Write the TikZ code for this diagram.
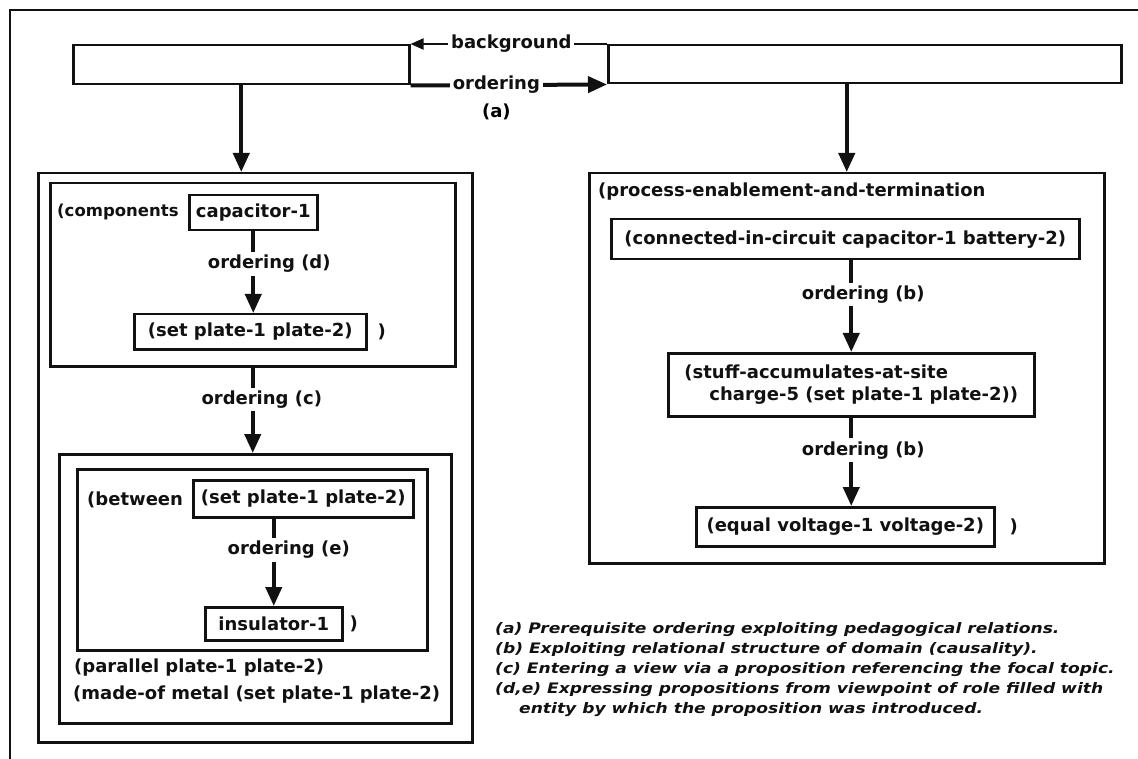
\documentclass[tikz,border=0pt]{standalone}
\usepackage{fontspec}
\setmainfont{DejaVu Sans}
\newfontfamily\notefont[FakeStretch=1.18]{DejaVu Sans}
\usetikzlibrary{arrows.meta, positioning, calc}
\definecolor{inkBlack}{HTML}{111111}
\tikzset{
  arrowK/.style={-{Triangle[length=19pt,width=16pt]}, line width=4pt, inkBlack},
  arrowThin/.style={-{Triangle[length=13pt,width=11pt]}, line width=2pt, inkBlack},
  boxK/.style={rectangle, draw=inkBlack, line width=2.5pt, fill=white,
               inner sep=0pt, align=center, text=inkBlack},
  frameK/.style={rectangle, draw=inkBlack, line width=2.5pt, inner sep=0pt},
  lblK/.style={fill=white, inner sep=3pt, text=inkBlack},
  txtK/.style={anchor=west, inner sep=0pt, text=inkBlack},
}
\begin{document}
\begin{tikzpicture}[x=1pt, y=-1pt, font=\bfseries\fontsize{18}{22}\selectfont]
    \useasboundingbox (0,0) rectangle (1138,759);
    \draw[inkBlack, line width=2.5pt] (10,759) -- (10,10) -- (1138,10);

    \node[boxK, minimum width=336pt, minimum height=39pt, anchor=north west] (topL) at (72,44) {};
    \node[boxK, minimum width=513pt, minimum height=38pt, anchor=north west] (topR) at (607,44) {};

    \node[frameK, minimum width=434pt, minimum height=569pt, anchor=north west] (viewL) at (37,172) {};
    \node[frameK, minimum width=405pt, minimum height=183pt, anchor=north west] (compBox) at (49,182) {};
    \node[txtK, font=\bfseries\fontsize{16.5}{20}\selectfont] (compTxt) at (57,212) {(components};
    \node[boxK, minimum width=128pt, minimum height=35pt, anchor=north west] (capBox) at (188,194) {capacitor-1};
    \node[boxK, minimum width=232pt, minimum height=35pt, anchor=north west] (setA) at (133,313) {(set plate-1 plate-2)};
    \node[txtK, right=10pt of setA] (setAEnd) {)};

    \node[frameK, minimum width=392pt, minimum height=269pt, anchor=north west] (midBox) at (58,453) {};
    \node[frameK, minimum width=350pt, minimum height=181pt, anchor=north west] (betwBox) at (76,468) {};
    \node[txtK] (betwTxt) at (87,500) {(between};
    \node[boxK, minimum width=220pt, minimum height=37pt, anchor=north west] (setB) at (192,479) {(set plate-1 plate-2)};
    \node[boxK, minimum width=137pt, minimum height=33pt, anchor=north west] (insul) at (204,606) {insulator-1};
    \node[txtK, right=6pt of insul] (insulEnd) {)};
    \node[txtK] (parTxt) at (74,668) {(parallel plate-1 plate-2)};
    \node[txtK] (madeTxt) at (73,695) {(made-of metal (set plate-1 plate-2)};

    \node[frameK, minimum width=515pt, minimum height=390pt, anchor=north west] (procBox) at (588,172) {};
    \node[txtK] (procTxt) at (598,192) {(process-enablement-and-termination};
    \node[boxK, minimum width=468pt, minimum height=40pt, anchor=north west] (connBox) at (610,218)
      {(connected-in-circuit capacitor-1 battery-2)};
    \node[boxK, minimum width=366pt, minimum height=63pt, anchor=north west, align=left] (stuffBox) at (667,352)
      {(stuff-accumulates-at-site\\\hspace*{25pt}charge-5 (set plate-1 plate-2))};
    \node[boxK, minimum width=298pt, minimum height=39pt, anchor=north west] (eqBox) at (695,506)
      {(equal voltage-1 voltage-2)};
    \node[txtK, right=14pt of eqBox] (eqEnd) {)};

    \node[txtK, anchor=north west, align=left,
          font=\notefont\bfseries\itshape\fontsize{14.5}{20}\selectfont] (notes) at (495,622)
      {(a) Prerequisite ordering exploiting pedagogical relations.\\
       (b) Exploiting relational structure of domain (causality).\\
       (c) Entering a view via a proposition referencing the focal topic.\\
       (d,e) Expressing propositions from viewpoint of role filled with\\
       \hspace*{24pt}entity by which the proposition was introduced.};

    \draw[arrowThin] (topR.north west) -- (topL.north east)
      node[lblK, pos=0.487] (bgLbl) {background};
    \draw[arrowK] (topL.south east) -- (topR.south west)
      node[lblK, pos=0.437] (ordA) {ordering};
    \node[below=5pt of ordA, inner sep=0pt] (ordATag) {(a)};

    \draw[arrowK] (topL.south) -- (topL.south |- viewL.north);
    \draw[arrowK] (topR.south -| procBox.north) -- (procBox.north);

    \draw[arrowK] (capBox.south) -- (capBox.south |- setA.north)
      node[lblK, pos=0.4, xshift=16pt] (ordD) {ordering (d)};
    \draw[arrowK] (compBox.south) -- (compBox.south |- midBox.north)
      node[lblK, pos=0.375, xshift=9pt] (ordC) {ordering (c)};
    \draw[arrowK] (insul.north |- setB.south) -- (insul.north)
      node[lblK, pos=0.36, xshift=15pt] (ordE) {ordering (e)};
    \draw[arrowK] (stuffBox.north |- connBox.south) -- (stuffBox.north)
      node[lblK, pos=0.37, xshift=12pt] (ordB1) {ordering (b)};
    \draw[arrowK] (stuffBox.south) -- (stuffBox.south |- eqBox.north)
      node[lblK, pos=0.37, xshift=12pt] (ordB2) {ordering (b)};
\end{tikzpicture}
\end{document}
